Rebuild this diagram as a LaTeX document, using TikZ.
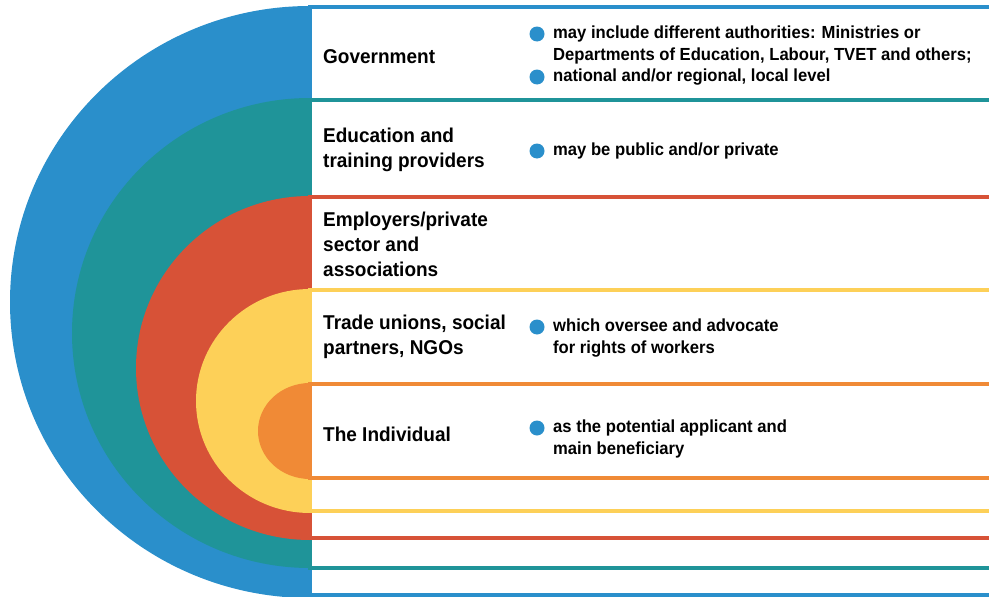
\documentclass[tikz,border=0pt]{standalone}
\usepackage{fontspec}
\setmainfont{Liberation Sans}[FakeStretch=0.95]
\definecolor{cblue}{HTML}{2A8FCB}
\definecolor{cteal}{HTML}{1F9499}
\definecolor{cred}{HTML}{D75237}
\definecolor{cyel}{HTML}{FDD058}
\definecolor{corange}{HTML}{F08A36}
\begin{document}
\begin{tikzpicture}[x=1pt,y=-1pt,
  band/.style={line width=4pt, fill=white},
  lab/.style={anchor=west, align=left, inner sep=0pt, font=\fontsize{20}{25}\selectfont\bfseries},
  btxt/.style={anchor=west, align=left, inner sep=0pt, font=\fontsize{17.5}{22}\selectfont\bfseries},
  dot/.style={circle, fill=cblue, minimum size=15pt, inner sep=0pt}]
\useasboundingbox (0,0) rectangle (989,597);
% blue
\fill[cblue] (310,6) arc[start angle=90, end angle=270, x radius=300pt, y radius=296pt] -- cycle;
\draw[band, draw=cblue] (310,7) rectangle (1000,595);
% teal
\fill[cteal] (310,98) arc[start angle=90, end angle=270, x radius=238pt, y radius=235pt] -- cycle;
\draw[band, draw=cteal] (310,100) rectangle (1000,568);
% red
\fill[cred] (310,196) arc[start angle=90, end angle=270, x radius=174pt, y radius=172pt] -- cycle;
\draw[band, draw=cred] (310,197) rectangle (1000,538);
% yellow
\fill[cyel] (310,289) arc[start angle=90, end angle=270, x radius=114pt, y radius=112pt] -- cycle;
\draw[band, draw=cyel] (310,290) rectangle (1000,511);
% orange
\fill[corange] (310,383) arc[start angle=90, end angle=270, x radius=52pt, y radius=48pt] -- cycle;
\draw[band, draw=corange] (310,384) rectangle (1000,478);
% labels
\node[lab] (gov) at (323,57) {Government};
\node[lab] (edu) at (323,149.5) {Education and\\training providers};
\node[lab] (emp) at (323,244.5) {Employers/private\\sector and\\associations};
\node[lab] (tu) at (323,336.5) {Trade unions, social\\partners, NGOs};
\node[lab] (ind) at (323,434) {The Individual};
% bullets
\node[dot] (b1) at (537,34) {};
\node[dot] (b2) at (537,77) {};
\node[btxt] (t1) at (553,45) {may include different authorities: Ministries or\\Departments of Education, Labour, TVET and others;};
\node[btxt] (t2) at (553,77) {national and/or regional, local level};
\node[dot] (b3) at (537,151) {};
\node[btxt] (t3) at (553,151) {may be public and/or private};
\node[dot] (b4) at (537,327) {};
\node[btxt] (t4) at (553,338.5) {which oversee and advocate\\for rights of workers};
\node[dot] (b5) at (537,428) {};
\node[btxt] (t5) at (553,439) {as the potential applicant and\\main beneficiary};
\end{tikzpicture}
\end{document}
